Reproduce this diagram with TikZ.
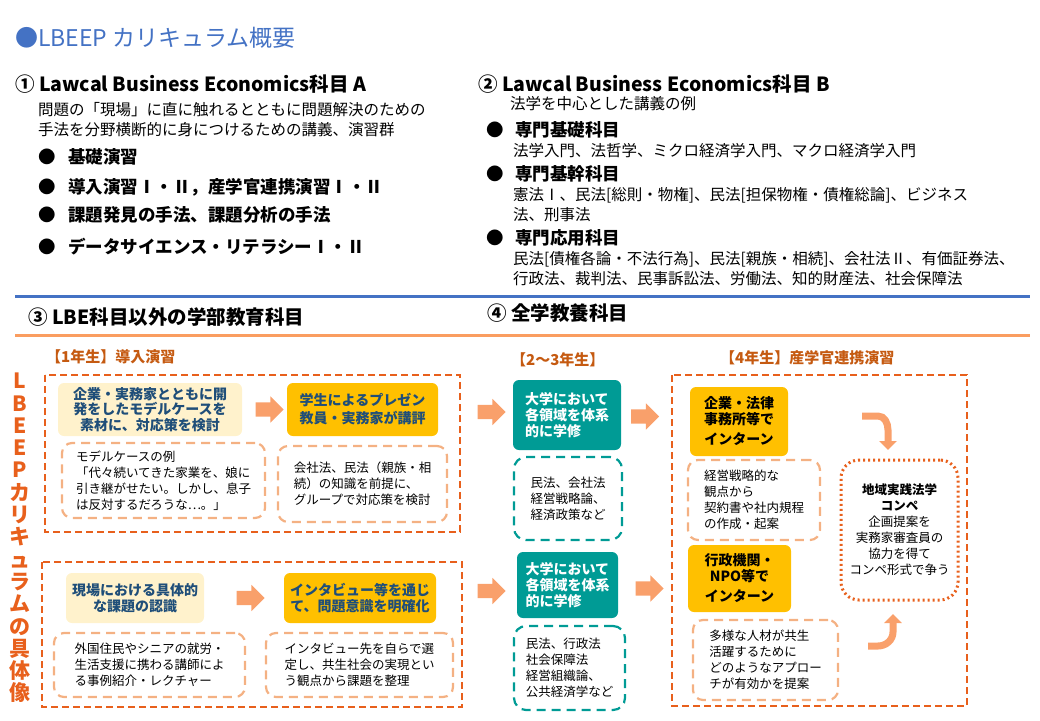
\documentclass[tikz,border=0pt]{standalone}
\usepackage{fontspec}
\setmainfont{Noto Sans CJK JP}
\usetikzlibrary{shapes.arrows,arrows.meta}
\definecolor{ttlblue}{HTML}{4472C4}
\definecolor{linblue}{HTML}{4472C4}
\definecolor{frmorange}{HTML}{E8601C}
\definecolor{lblbrown}{HTML}{C55A11}
\definecolor{paleyel}{HTML}{FFF2CC}
\definecolor{gold}{HTML}{FFC000}
\definecolor{teal}{HTML}{009B95}
\definecolor{softorange}{HTML}{F4B183}
\definecolor{arrowc}{HTML}{F9A06B}
\definecolor{navy}{HTML}{1F4E79}
\tikzset{
  txt/.style={anchor=west,inner sep=0,font=\fontsize{15.5}{18}\selectfont},
  hdr/.style={anchor=west,inner sep=0,font=\fontsize{19.5}{22}\selectfont\bfseries},
  bul/.style={anchor=west,inner sep=0,font=\fontsize{17.5}{20}\selectfont\bfseries},
  yr/.style={anchor=west,inner sep=0,text=lblbrown,font=\fontsize{15}{18}\selectfont\bfseries},
  frame/.style={draw=frmorange,line width=2.2pt,dash pattern=on 7pt off 4pt},
  pale/.style={fill=paleyel,rounded corners=6pt,text=navy,align=center,font=\fontsize{14}{15.5}\selectfont\bfseries},
  goldbox/.style={fill=gold,rounded corners=6pt,align=center,font=\fontsize{14}{16}\selectfont\bfseries},
  tealbox/.style={fill=teal,rounded corners=6pt,text=white,align=left,font=\fontsize{14}{16}\selectfont\bfseries},
  note/.style={draw=softorange,line width=2.2pt,dash pattern=on 9pt off 6pt,rounded corners=10pt,align=left,font=\fontsize{12.5}{16}\selectfont},
  tnote/.style={draw=teal,line width=2.2pt,dash pattern=on 9pt off 6pt,rounded corners=12pt,align=left,font=\fontsize{12.5}{16}\selectfont},
  fwd/.style={single arrow,fill=arrowc,inner sep=7pt,minimum height=28pt,single arrow head extend=6pt},
  turnarrow/.style={draw=arrowc,line width=7pt,-{Triangle[length=9pt,width=17pt]}}
}
\begin{document}
\begin{tikzpicture}[x=1pt,y=-1pt]
\useasboundingbox (0,0) rectangle (1040,720);
\node[anchor=west,inner sep=0,text=ttlblue,font=\fontsize{23}{26}\selectfont] (title) at (15,38) {●LBEEP カリキュラム概要};

% course A
\node[hdr] (hdrA) at (15,84) {① Lawcal Business Economics科目 A};
\node[txt] (descA1) at (38,110) {問題の「現場」に直に触れるとともに問題解決のための};
\node[txt] (descA2) at (38,130) {手法を分野横断的に身につけるための講義、演習群};
\foreach \y/\t in {157/基礎演習,187/導入演習Ⅰ・Ⅱ，産学官連携演習Ⅰ・Ⅱ,215/課題発見の手法、課題分析の手法,247/データサイエンス・リテラシーⅠ・Ⅱ}{
  \node[bul] at (38,\y) {●};
  \node[bul] at (68,\y) {\t};
}

% course B
\node[hdr] (hdrB) at (478,84) {② Lawcal Business Economics科目 B};
\node[txt] (descB) at (510,104) {法学を中心とした講義の例};
\foreach \y/\t in {130/専門基礎科目,174/専門基幹科目,238/専門応用科目}{
  \node[bul] at (486,\y) {●};
  \node[bul] at (515,\y) {\t};
}
\node[txt] at (513,151) {法学入門、法哲学、ミクロ経済学入門、マクロ経済学入門};
\node[txt] at (513,195) {憲法Ⅰ、民法[総則・物権]、民法[担保物権・債権総論]、ビジネス};
\node[txt] at (513,215) {法、刑事法};
\node[txt] at (513,259) {民法[債権各論・不法行為]、民法[親族・相続]、会社法Ⅱ、有価証券法、};
\node[txt] at (513,279) {行政法、裁判法、民事訴訟法、労働法、知的財産法、社会保障法};

\draw[linblue,line width=3pt] (15,296) -- (1030,296);
\node[hdr] (hdrC) at (28,317) {③ LBE科目以外の学部教育科目};
\node[hdr] (hdrD) at (487,313) {④ 全学教養科目};
\draw[arrowc!90!orange,line width=3pt] (15,335) -- (1030,335);

% vertical title
\node[inner sep=0,text=frmorange,align=center,font=\fontsize{21}{22.3}\selectfont\bfseries] (vert) at (20,538)
  {L\\B\\E\\E\\P\\カ\\リ\\キ\\ュ\\ラ\\ム\\の\\具\\体\\像};

% first year
\node[yr] (y1) at (46,357) {【1年生】導入演習};
\draw[frame] (45,375) rectangle (460,532);
\node[pale,minimum width=184pt,minimum height=53pt] (case) at (150,409.5) {企業・実務家とともに開\\発をしたモデルケースを\\素材に、対応策を検討};
\node[goldbox,text=navy,minimum width=151pt,minimum height=53pt] (pres) at (362.5,409.5) {学生によるプレゼン\\[2pt]教員・実務家が講評};
\node[fwd] (a1) at (266,409.5) {};
\node[note,minimum width=203pt,minimum height=75pt] (caseN) at (163.5,480.5) {モデルケースの例\\「代々続いてきた家業を、娘に\\引き継がせたい。しかし、息子\\は反対するだろうな…。」};
\node[note,minimum width=169pt,minimum height=76pt] (presN) at (362.5,484) {会社法、民法（親族・相\\続）の知識を前提に、\\グループで対応策を検討};

\draw[frame] (42,562) rectangle (462,707);
\node[pale,minimum width=138pt,minimum height=50pt] (issue) at (135,598) {現場における具体的\\な課題の認識};
\node[goldbox,text=navy,minimum width=152pt,minimum height=50pt] (intv) at (360,598) {インタビュー等を通じ\\て、問題意識を明確化};
\node[fwd] (a2) at (247,598) {};
\node[note,minimum width=191pt,minimum height=64pt] (issueN) at (149.5,665) {外国住民やシニアの就労・\\生活支援に携わる講師によ\\る事例紹介・レクチャー};
\node[note,minimum width=187pt,minimum height=64pt] (intvN) at (359.5,665) {インタビュー先を自らで選\\定し、共生社会の実現とい\\う観点から課題を整理};

% second and third year
\node[yr] (y23) at (511,360) {【2〜3年生】};
\node[fwd] (a3) at (488,412) {};
\node[fwd] (a4) at (488,591) {};
\node[tealbox,minimum width=108pt,minimum height=70pt] (uni1) at (567,415) {大学において\\各領域を体系\\的に学修};
\node[tnote,minimum width=108pt,minimum height=83pt] (uni1N) at (568,498.5) {民法、会社法\\経営戦略論、\\経済政策など};
\node[tealbox,minimum width=101pt,minimum height=66pt] (uni2) at (567.5,585) {大学において\\各領域を体系\\的に学修};
\node[tnote,minimum width=111pt,minimum height=84pt] (uni2N) at (569.5,668) {民法、行政法\\社会保障法\\経営組織論、\\公共経済学など};
\node[fwd] (a5) at (641.5,416.5) {};
\node[fwd] (a6) at (646,588.5) {};

% fourth year
\node[yr] (y4) at (720,358) {【4年生】産学官連携演習};
\draw[frame] (672,375) rectangle (967,706);
\node[goldbox,minimum width=98pt,minimum height=69pt] (corp) at (739,421.5) {企業・法律\\事務所等で\\[4pt]インターン};
\node[note,minimum width=132pt,minimum height=80pt] (corpN) at (754,500) {経営戦略的な\\観点から\\契約書や社内規程\\の作成・起案};
\node[goldbox,minimum width=103pt,minimum height=67pt] (gov) at (739.5,578.5) {行政機関・\\NPO等で\\[4pt]インターン};
\node[note,minimum width=145pt,minimum height=80pt] (govN) at (765.5,660) {多様な人材が共生\\活躍するために\\どのようなアプロー\\チが有効かを提案};
\node[draw=frmorange,line width=3pt,dash pattern=on 2pt off 3pt,rounded corners=18pt,minimum width=117pt,minimum height=140pt,align=center,font=\fontsize{12.5}{16}\selectfont] (compe) at (899.5,530)
  {\textbf{地域実践法学}\\\textbf{コンペ}\\企画提案を\\実務家審査員の\\協力を得て\\コンペ形式で争う};
\draw[turnarrow] (862,416) -- (878,416) to[out=0,in=90] (888,430) -- (888,450);
\draw[turnarrow] (868,646) -- (878,646) to[out=0,in=-90] (893,632) -- (893,614);
\end{tikzpicture}
\end{document}
